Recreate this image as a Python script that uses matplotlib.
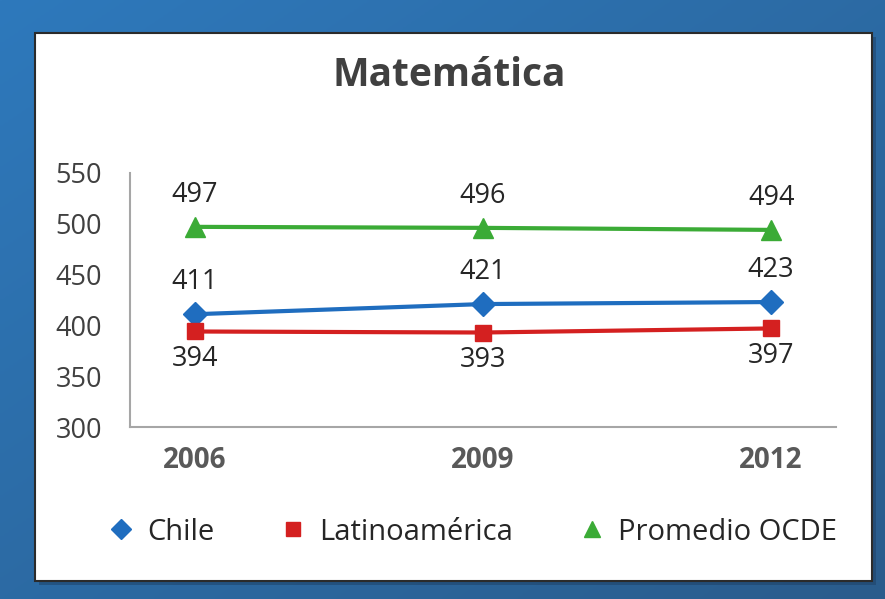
import numpy as np
import matplotlib.pyplot as plt
from matplotlib.lines import Line2D
from matplotlib.patches import Rectangle

plt.rcParams['font.family'] = ['Open Sans', 'DejaVu Sans']

# puntajes PISA matemática
years = ['2006', '2009', '2012']
chile = [411, 421, 423]
latam = [394, 393, 397]
ocde = [497, 496, 494]

series = [
    ('Chile', chile, '#1f6dbf', 'D', 12, 'above'),
    ('Latinoamérica', latam, '#d42020', 's', 12, 'below'),
    ('Promedio OCDE', ocde, '#3bab36', '^', 14, 'above'),
]

fig = plt.figure(figsize=(8.85, 5.99), dpi=100)

# fondo azul con degradado
bg = fig.add_axes([0, 0, 1, 1], zorder=-10)
gx, gy = np.meshgrid(np.linspace(0, 1, 200), np.linspace(0, 1, 200))
grad = (gx + gy) / 2
top = np.array([0x2e, 0x79, 0xbc]) / 255
bot = np.array([0x2a, 0x5c, 0x8c]) / 255
img = top[None, None, :] * (1 - grad[..., None]) + bot[None, None, :] * grad[..., None]
bg.imshow(img, extent=[0, 1, 0, 1], aspect='auto', origin='upper')
bg.set_xlim(0, 1)
bg.set_ylim(0, 1)
bg.axis('off')

# panel blanco
px0, py0 = 35 / 885, 1 - 581 / 599
pw, ph = (872 - 35) / 885, (581 - 33) / 599
bg.add_patch(Rectangle((px0 + 0.004, py0 - 0.006), pw, ph, facecolor='#1d3f63', alpha=0.5, edgecolor='none'))
bg.add_patch(Rectangle((px0, py0), pw, ph, facecolor='white', edgecolor='#2b2b2b', linewidth=1.5))

ax = fig.add_axes([130 / 885, 1 - 427 / 599, (836 - 130) / 885, (427 - 173) / 599])
ax.set_facecolor('none')
x = np.arange(len(years))

for name, vals, color, marker, ms, pos in series:
    ax.plot(x, vals, color=color, linewidth=3, marker=marker, markersize=ms, clip_on=False)
    for xi, v in zip(x, vals):
        off = 23 if pos == 'above' else -20
        ax.annotate(str(v), (xi, v), xytext=(0, off), textcoords='offset points',
                    ha='center', va='center', fontsize=19.5, color='#262626')

ax.set_xlim(-0.225, 2.225)
ax.set_ylim(300, 550)
ax.set_yticks(range(300, 551, 50))
ax.set_xticks(x)
ax.set_xticklabels(years, fontsize=20, fontweight='bold', color='#595959')
ax.tick_params(axis='y', length=0, pad=20, labelsize=19.5, labelcolor='#404040')
ax.tick_params(axis='x', length=0, pad=14)
for s in ['top', 'right']:
    ax.spines[s].set_visible(False)
for s in ['left', 'bottom']:
    ax.spines[s].set_color('#a6a6a6')
    ax.spines[s].set_linewidth(1.5)

fig.text(0.508, 1 - 75 / 599, 'Matemática', ha='center', va='center',
         fontsize=28, fontweight='bold', color='#404040')

handles = [Line2D([], [], linestyle='none', marker=m, color=c, markersize=ms * 0.85)
           for _, _, c, m, ms, _ in series]
fig.legend(handles, [s[0] for s in series], loc='center', ncol=3,
           bbox_to_anchor=(0.535, 1 - 532 / 599), frameon=False, fontsize=21,
           handlelength=0.8, handletextpad=0.5, columnspacing=2.3,
           labelcolor='#262626')

fig.savefig('out.png', dpi=100)
